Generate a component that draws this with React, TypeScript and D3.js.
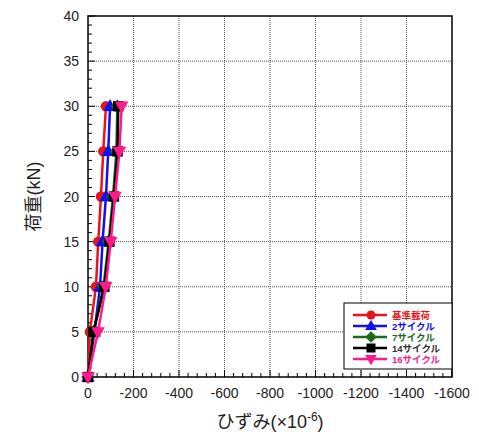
import * as d3 from 'd3'

const loads = [0, 5, 10, 15, 20, 25, 30]
const seriesNames = ['基準載荷', '2サイクル', '7サイクル', '14サイクル', '16サイクル']
const strainBase = [0, -8, -35, -45, -57, -67, -79]
const strain2 = [0, -28, -53, -64, -79, -89, -97]
const strain7 = [0, -24, -68, -91, -110, -125, -129]
const strain14 = [0, -24, -72, -94, -114, -130, -133]
const strain16 = [0, -44, -78, -100, -119, -138, -148]
const xTicks = [0, -200, -400, -600, -800, -1000, -1200, -1400, -1600]
const yTicks = [0, 5, 10, 15, 20, 25, 30, 35, 40]

const colors = ['#e8141a', '#1010f0', '#1c6b1c', '#000000', '#ff1a8c']
const textColors = ['#e8141a', '#1010f0', '#1c6b1c', '#333333', '#ff1a8c']
const shapes = ['circle', 'triangle', 'diamond', 'square', 'down']

const W = 479
const H = 438
const m = { left: 88, top: 16, right: 27, bottom: 61 }

function Marker({ shape, x, y, color, s }: { shape: string; x: number; y: number; color: string; s: number }) {
  if (shape === 'circle') return <circle cx={x} cy={y} r={s} fill={color} />
  if (shape === 'square') return <rect x={x - s} y={y - s} width={2 * s} height={2 * s} fill={color} />
  if (shape === 'diamond')
    return <path d={`M${x},${y - s * 1.3}L${x + s * 1.3},${y}L${x},${y + s * 1.3}L${x - s * 1.3},${y}Z`} fill={color} />
  if (shape === 'triangle')
    return <path d={`M${x},${y - s * 1.4}L${x + s * 1.3},${y + s * 0.9}L${x - s * 1.3},${y + s * 0.9}Z`} fill={color} />
  return <path d={`M${x},${y + s * 1.4}L${x + s * 1.3},${y - s * 0.9}L${x - s * 1.3},${y - s * 0.9}Z`} fill={color} />
}

export default function App() {
  const series = [strainBase, strain2, strain7, strain14, strain16]
  const x = d3.scaleLinear().domain([0, -1600]).range([m.left, W - m.right])
  const y = d3.scaleLinear().domain([0, 40]).range([H - m.bottom, m.top])
  const line = d3.line<[number, number]>().x(d => x(d[0])).y(d => y(d[1]))
  const xMinor = d3.range(0, -1601, -40)
  const yMinor = d3.range(0, 41, 1)
  const font = '"Liberation Sans", Arial, "Noto Sans CJK JP", sans-serif'
  const lg = { x: 344, y: 303, w: 108, h: 66 }

  return (
    <svg width={W} height={H} style={{ display: 'block', position: 'absolute', left: 0, top: 0 }} fontFamily={font}>
      <rect width={W} height={H} fill="#fff" />
      {/* grid */}
      {xTicks.slice(1, -1).map(t => (
        <line key={'gx' + t} x1={x(t)} x2={x(t)} y1={y(0)} y2={y(40)} stroke="#555" strokeDasharray="1,1" />
      ))}
      {yTicks.slice(1, -1).map(t => (
        <line key={'gy' + t} x1={x(0)} x2={x(-1600)} y1={y(t)} y2={y(t)} stroke="#555" strokeDasharray="1,1" />
      ))}
      {/* ticks */}
      {xMinor.map(t => (
        <line key={'tx' + t} x1={x(t)} x2={x(t)} y1={y(0)} y2={y(0) - (t % 200 === 0 ? 7 : 4)} stroke="#000" />
      ))}
      {yMinor.map(t => (
        <line key={'ty' + t} x1={x(0)} x2={x(0) + (t % 5 === 0 ? 7 : 4)} y1={y(t)} y2={y(t)} stroke="#000" />
      ))}
      <rect x={x(0)} y={y(40)} width={x(-1600) - x(0)} height={y(0) - y(40)} fill="none" stroke="#000" strokeWidth={1.5} />
      {/* tick labels */}
      {xTicks.map(t => (
        <text key={'lx' + t} x={x(t)} y={y(0) + 21} fontSize={14} textAnchor="middle" fill="#222">{t}</text>
      ))}
      {yTicks.map(t => (
        <text key={'ly' + t} x={x(0) - 9} y={y(t) + 5} fontSize={14} textAnchor="end" fill="#222">{t}</text>
      ))}
      {/* axis titles */}
      <text x={270} y={428} fontSize={18} textAnchor="middle" fill="#222">
        ひずみ(×10<tspan dy={-7} fontSize={12}>-6</tspan><tspan dy={7}>)</tspan>
      </text>
      <text transform={`translate(40,${(y(0) + y(40)) / 2}) rotate(-90)`} fontSize={18} textAnchor="middle" fill="#222">
        荷重(kN)
      </text>
      {/* series */}
      {series.map((s, i) => (
        <g key={'s' + i}>
          <path d={line(s.map((v, j) => [v, loads[j]] as [number, number])) || ''} fill="none" stroke={colors[i]} strokeWidth={2.5} />
          {s.map((v, j) => (
            <Marker key={j} shape={shapes[i]} x={x(v)} y={y(loads[j])} color={colors[i]} s={5.2} />
          ))}
        </g>
      ))}
      {/* legend */}
      <rect x={lg.x} y={lg.y} width={lg.w} height={lg.h} fill="#fff" stroke="#000" />
      {seriesNames.map((n, i) => {
        const ry = lg.y + 12 + i * 11
        return (
          <g key={'lg' + i}>
            <line x1={lg.x + 9} x2={lg.x + 43} y1={ry} y2={ry} stroke={colors[i]} strokeWidth={2.5} />
            <Marker shape={shapes[i]} x={lg.x + 27} y={ry} color={colors[i]} s={4.5} />
            <text x={lg.x + 48} y={ry + 3.5} fontSize={9.5} fontWeight="bold" fill={textColors[i]}>{n}</text>
          </g>
        )
      })}
    </svg>
  )
}
